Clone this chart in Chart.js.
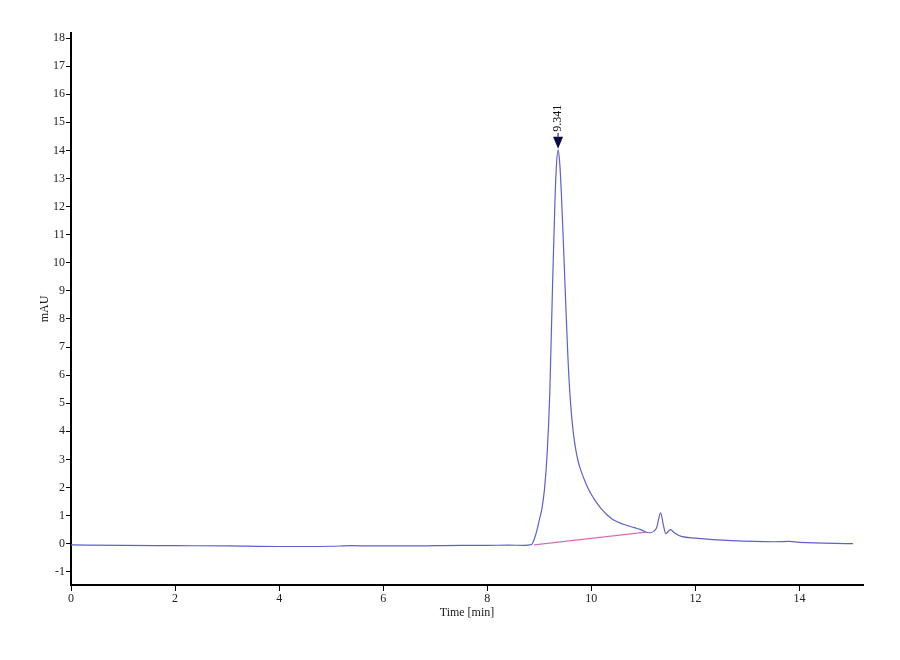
<!DOCTYPE html>
<html>
<head>
<meta charset="utf-8">
<script src="https://cdn.jsdelivr.net/npm/chart.js@4.4.0/dist/chart.umd.min.js"></script>
<style>
  html, body { margin: 0; padding: 0; background: #fff; }
  #wrap { width: 900px; height: 660px; }
</style>
</head>
<body>
<div id="wrap"><canvas id="myChart1"></canvas></div>
<script>
// Chromatogram trace
const timeVals = [0, 1, 2, 3, 4, 4.6, 5.0, 5.4, 5.8, 6.5, 7.0, 7.5, 8.0, 8.4, 8.7, 8.85,
    8.9, 8.95, 9.0, 9.05, 9.1, 9.15, 9.2, 9.25, 9.3, 9.33, 9.36,
    9.39, 9.42, 9.45, 9.5, 9.55, 9.6, 9.65, 9.7, 9.75, 9.8, 9.9, 10.0, 10.1, 10.2, 10.3, 10.42, 10.6, 10.83, 10.95,
    11.1, 11.25, 11.33, 11.38, 11.43, 11.52, 11.6, 11.73, 12.0, 12.7, 13.5, 13.8, 14.0, 15.03];
const signalVals = [-0.04, -0.06, -0.07, -0.08, -0.1, -0.1, -0.09, -0.07, -0.08, -0.08, -0.07, -0.06, -0.06, -0.05, -0.06, -0.03,
    0.15, 0.45, 0.85, 1.25, 1.95, 3.2, 5.3, 8.9, 12.2, 13.5, 14.02,
    13.6, 12.6, 11.3, 8.9, 6.6, 5.0, 4.0, 3.35, 2.9, 2.6, 2.12, 1.75, 1.46, 1.22, 1.03, 0.85, 0.7, 0.57, 0.5,
    0.39, 0.55, 1.1, 0.7, 0.36, 0.5, 0.38, 0.26, 0.2, 0.11, 0.07, 0.08, 0.05, 0.0];

// Integration baseline under the main peak
const baseTimes = [8.9, 11.05];
const baseVals = [-0.04, 0.41];

// Peak annotation
const peakTimes = [9.36];
const peakHeights = [14.02];
const peakLabels = ['9.341'];

const xTicks = [0, 2, 4, 6, 8, 10, 12, 14];
const yTicks = [-1, 0, 1, 2, 3, 4, 5, 6, 7, 8, 9, 10, 11, 12, 13, 14, 15, 16, 17, 18];

const serif = '"Liberation Serif", "DejaVu Serif", serif';

const peakMarker = {
    id: 'peakMarker',
    afterDatasetsDraw(chart) {
        const c = chart.ctx;
        const xs = chart.scales.x, ys = chart.scales.y;
        peakTimes.forEach((t, i) => {
            const px = xs.getPixelForValue(t);
            const py = ys.getPixelForValue(peakHeights[i]) - 1;
            c.save();
            c.fillStyle = '#0b0b4a';
            c.beginPath();
            c.moveTo(px, py);
            c.lineTo(px - 5, py - 12);
            c.lineTo(px + 5, py - 12);
            c.closePath();
            c.fill();
            c.strokeStyle = '#0b0b4a';
            c.lineWidth = 1;
            c.beginPath();
            c.moveTo(px, py - 12);
            c.lineTo(px, py - 16);
            c.stroke();
            c.translate(px, py - 17);
            c.rotate(-Math.PI / 2);
            c.fillStyle = '#111';
            c.font = '12px ' + serif;
            c.textAlign = 'left';
            c.textBaseline = 'middle';
            c.fillText(peakLabels[i], 0, 0);
            c.restore();
        });
    }
};

const ctx = document.getElementById('myChart1').getContext('2d');

const myChart1 = new Chart(ctx, {
    type: 'line',
    data: {
        datasets: [{
            label: 'Signal',
            data: timeVals.map((t, i) => ({ x: t, y: signalVals[i] })),
            borderColor: 'rgb(95, 95, 205)',
            borderWidth: 1.2,
            pointRadius: 0,
            cubicInterpolationMode: 'monotone',
            fill: false
        }, {
            label: 'Baseline',
            data: baseTimes.map((t, i) => ({ x: t, y: baseVals[i] })),
            borderColor: 'rgb(215, 110, 180)',
            borderWidth: 1.2,
            pointRadius: 0,
            fill: false
        }]
    },
    options: {
        responsive: true,
        maintainAspectRatio: false,
        animation: false,
        layout: {
            padding: { left: 0, right: 37, top: 33, bottom: 0 }
        },
        scales: {
            x: {
                type: 'linear',
                min: 0,
                max: 15.22,
                afterBuildTicks: scale => { scale.ticks = xTicks.map(v => ({ value: v })); },
                afterFit: scale => { scale.height = 75; },
                grid: { drawOnChartArea: false, drawTicks: true, tickLength: 6, color: '#000', lineWidth: 1 },
                border: { display: true, color: '#000', width: 2 },
                ticks: { color: '#222', font: { family: serif, size: 12 }, padding: 1, maxRotation: 0 },
                title: { display: true, text: 'Time [min]', color: '#222', font: { family: serif, size: 12 }, padding: { top: 0, bottom: 40 } }
            },
            y: {
                min: -1.47,
                max: 18.18,
                afterBuildTicks: scale => { scale.ticks = yTicks.map(v => ({ value: v })); },
                afterFit: scale => { scale.width = 71; },
                grid: { drawOnChartArea: false, drawTicks: true, tickLength: 5, color: '#000', lineWidth: 1 },
                border: { display: true, color: '#000', width: 2 },
                ticks: { color: '#222', font: { family: serif, size: 12 }, padding: 1 },
                title: { display: true, text: 'mAU', color: '#222', font: { family: serif, size: 12 }, padding: { top: 38, bottom: 0 } }
            }
        },
        plugins: {
            legend: { display: false },
            tooltip: { enabled: false }
        }
    },
    plugins: [peakMarker]
});
</script>
</body>
</html>
